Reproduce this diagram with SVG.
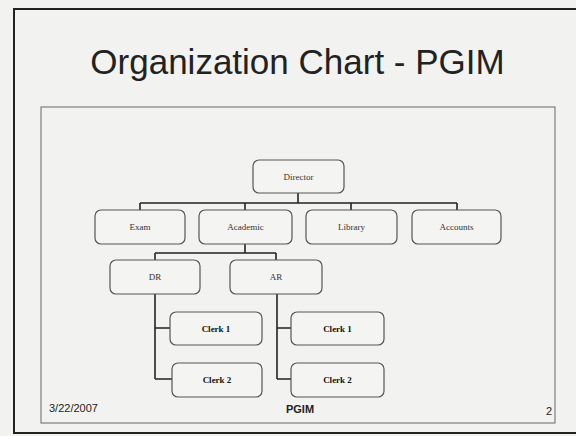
<svg xmlns="http://www.w3.org/2000/svg" width="576" height="436" viewBox="0 0 576 436">
<defs>
<style>
.box{fill:#f4f4f2;stroke:#555;stroke-width:1.2}
.lbl{font-family:"Liberation Serif","Times New Roman",serif;font-size:9px;fill:#333;text-anchor:middle}
.clk{font-family:"Liberation Serif","Times New Roman",serif;font-size:9px;fill:#111;text-anchor:middle;font-weight:bold}
.con{stroke:#222;stroke-width:1.6;fill:none}
.foot{font-family:"Liberation Sans",Arial,sans-serif;font-size:11px;fill:#222}
</style>
</defs>
<rect x="0" y="0" width="576" height="436" fill="#f2f2f0"/>
<path d="M576 9 H14 V433 H576" fill="none" stroke="#222" stroke-width="2"/>
<rect x="41" y="107" width="514" height="316" fill="none" stroke="#666" stroke-width="1"/>
<text x="297.5" y="74" font-family="'Liberation Sans',Arial,sans-serif" font-size="35" fill="#222" text-anchor="middle">Organization Chart - PGIM</text>
<g id="connectors">
<path class="con" d="M298 193 V203 M140 203 H457 M140 203 V210 M245 203 V210 M351 203 V210 M457 203 V210"/>
<path class="con" d="M245 244 V253 M155 253 H276 M155 253 V260 M276 253 V260"/>
<path class="con" d="M155 294 V379 M155 328 H170 M155 379 H172"/>
<path class="con" d="M277 294 V379 M277 328 H291 M277 379 H291"/>
</g>
<g id="director"><rect class="box" x="253" y="160" width="91" height="33" rx="6"/><text class="lbl" x="298.5" y="179.5">Director</text></g>
<g id="exam"><rect class="box" x="95" y="210" width="90" height="34" rx="6"/><text class="lbl" x="140" y="230">Exam</text></g>
<g id="academic"><rect class="box" x="199" y="210" width="93" height="34" rx="6"/><text class="lbl" x="245.5" y="230">Academic</text></g>
<g id="library"><rect class="box" x="306" y="210" width="91" height="34" rx="6"/><text class="lbl" x="351.5" y="230">Library</text></g>
<g id="accounts"><rect class="box" x="412" y="210" width="89" height="34" rx="6"/><text class="lbl" x="456.5" y="230">Accounts</text></g>
<g id="dr"><rect class="box" x="110" y="260" width="90" height="34" rx="6"/><text class="lbl" x="155" y="280">DR</text></g>
<g id="ar"><rect class="box" x="230" y="260" width="92" height="34" rx="6"/><text class="lbl" x="276" y="280">AR</text></g>
<g id="clerk1-dr"><rect class="box" x="170" y="312" width="92" height="33" rx="6"/><text class="clk" x="216" y="331.5">Clerk 1</text></g>
<g id="clerk2-dr"><rect class="box" x="172" y="363" width="90" height="34" rx="6"/><text class="clk" x="217" y="383">Clerk 2</text></g>
<g id="clerk1-ar"><rect class="box" x="291" y="312" width="93" height="33" rx="6"/><text class="clk" x="337.5" y="331.5">Clerk 1</text></g>
<g id="clerk2-ar"><rect class="box" x="291" y="363" width="93" height="34" rx="6"/><text class="clk" x="337.5" y="383">Clerk 2</text></g>
<text class="foot" x="49" y="412">3/22/2007</text>
<text class="foot" x="300" y="413" font-weight="bold" text-anchor="middle">PGIM</text>
<text class="foot" x="546" y="415">2</text>
</svg>
